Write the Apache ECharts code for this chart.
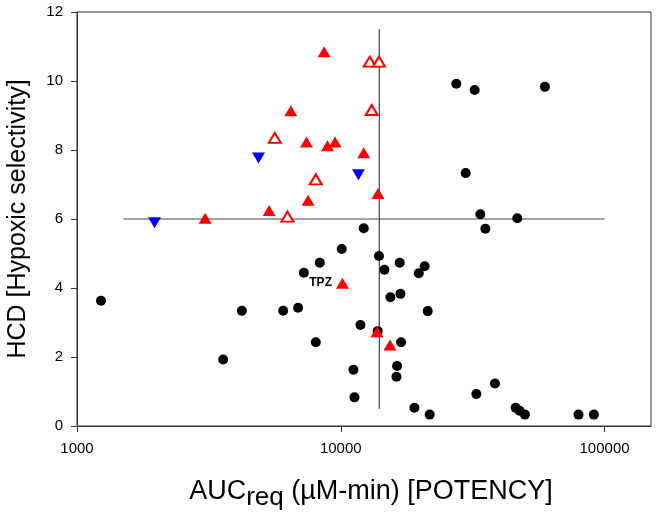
<!DOCTYPE html>
<html>
<head>
<meta charset="utf-8">
<script src="https://cdn.jsdelivr.net/npm/echarts@6/dist/echarts.min.js"></script>
<style>
html,body{margin:0;padding:0;background:#fff;}
#chart{width:657px;height:512px;}
</style>
</head>
<body>
<div id="chart"></div>
<script>
// Black circles
const circlesX = [1233, 3583, 4217, 6047, 6890, 7244, 8327, 8040, 10088, 11170, 11270, 11875, 12220, 13960, 14640, 16730, 19750, 20800, 15420, 16830, 21360, 13800, 16930, 16350, 16260, 19020, 21730, 32660, 38420, 46020, 47640, 49890, 79700, 91100, 33810, 35330, 46690, 27420, 32180, 59400, 29760];
const circlesY = [3.63, 1.93, 3.34, 3.34, 3.43, 4.44, 4.73, 2.43, 5.13, 1.63, 0.83, 2.93, 5.73, 4.93, 4.53, 4.73, 4.43, 4.63, 3.73, 3.83, 3.33, 2.75, 2.43, 1.74, 1.43, 0.53, 0.33, 0.93, 1.23, 0.53, 0.44, 0.33, 0.33, 0.33, 6.14, 5.72, 6.02, 9.92, 9.74, 9.83, 7.33];
// Red filled triangles
const filledX = [8648, 6465, 7414, 8905, 9517, 7520, 5352, 3062, 12220, 13840, 10148, 13720, 15370];
const filledY = [10.85, 9.14, 8.23, 8.12, 8.23, 6.54, 6.25, 6.02, 7.92, 6.74, 4.14, 2.73, 2.35];
const tpzIndex = 10;
const tpzLabel = 'TPZ';
// Red open triangles
const openX = [5623, 8040, 6281, 12880, 13960, 13100];
const openY = [8.35, 7.15, 6.07, 10.56, 10.56, 9.16];
// Blue down triangles
const blueX = [4877, 11670, 1968];
const blueY = [7.77, 7.28, 5.89];
// Reference lines
const hLineX = [1500, 100000];
const hLineY = 6;
const vLineX = 14000;
const vLineY = [0.5, 11.5];
// Axis ticks
const xTicks = [1000, 10000, 100000];
const yTicks = [0, 2, 4, 6, 8, 10, 12];

const zip = (xs, ys) => xs.map((x, i) => [x, ys[i]]);
const FONT = 'Liberation Sans';

const chart = echarts.init(document.getElementById('chart'));
chart.setOption({
  animation: false,
  backgroundColor: '#fff',
  grid: { left: 77, right: 6, top: 12, bottom: 86, outerBoundsMode: 'none', containLabel: false, show: true, borderColor: '#333', borderWidth: 1, backgroundColor: 'transparent' },
  xAxis: {
    type: 'log', logBase: 10, min: 1000, max: 150000,
    name: '{a|AUC}{s|req}{a| (\u00B5M-min) [POTENCY]}',
    nameLocation: 'middle', nameGap: 52,
    nameTextStyle: {
      padding: [0, 0, 0, 14],
      rich: {
        a: { fontFamily: FONT, fontSize: 27, color: '#000', verticalAlign: 'top', lineHeight: 30 },
        s: { fontFamily: FONT, fontSize: 26, color: '#000', verticalAlign: 'top', lineHeight: 30, padding: [7, 0, 0, 0] }
      }
    },
    axisLine: { show: true, lineStyle: { color: '#333', width: 1 } },
    axisTick: { show: true, inside: false, length: 6, customValues: xTicks, lineStyle: { color: '#333' } },
    axisLabel: { customValues: xTicks, formatter: v => String(Math.round(v)), fontFamily: FONT, fontSize: 15, color: '#000', margin: 15 },
    splitLine: { show: false },
    minorTick: { show: false }
  },
  yAxis: {
    type: 'value', min: 0, max: 12, interval: 2,
    name: 'HCD [Hypoxic selectivity]',
    nameLocation: 'middle', nameGap: 46, nameRotate: 90,
    nameTextStyle: { fontFamily: FONT, fontSize: 25, color: '#000' },
    axisLine: { show: true, lineStyle: { color: '#333', width: 1 } },
    axisTick: { show: true, inside: false, length: 6, lineStyle: { color: '#333' } },
    axisLabel: { fontFamily: FONT, fontSize: 15, color: '#000', margin: 14 },
    splitLine: { show: false }
  },
  series: [
    { type: 'line', data: [[hLineX[0], hLineY], [hLineX[1], hLineY]], symbol: 'none', lineStyle: { color: '#444', width: 1.2 }, silent: true, z: 1 },
    { type: 'line', data: [[vLineX, vLineY[0]], [vLineX, vLineY[1]]], symbol: 'none', lineStyle: { color: '#444', width: 1.2 }, silent: true, z: 1 },
    { type: 'scatter', data: zip(circlesX, circlesY), symbol: 'circle', symbolSize: 10, itemStyle: { color: '#000', opacity: 1 }, z: 2 },
    { type: 'scatter', data: zip(openX, openY), symbol: 'triangle', symbolSize: [12, 10], itemStyle: { color: '#fff', borderColor: '#ff0000', borderWidth: 2, opacity: 1 }, z: 3 },
    { type: 'scatter', data: zip(blueX, blueY), symbol: 'triangle', symbolRotate: 180, symbolSize: [13, 11], itemStyle: { color: '#0000ff', opacity: 1 }, z: 3 },
    { type: 'scatter',
      data: zip(filledX, filledY).map((p, i) => i === tpzIndex ? { value: p, label: { show: true, formatter: tpzLabel, position: 'left', distance: 4, fontFamily: FONT, fontWeight: 'bold', fontSize: 12, color: '#000' } } : p),
      symbol: 'triangle', symbolSize: [13, 11], itemStyle: { color: '#ff0000', opacity: 1 }, z: 4 }
  ]
});
</script>
</body>
</html>
